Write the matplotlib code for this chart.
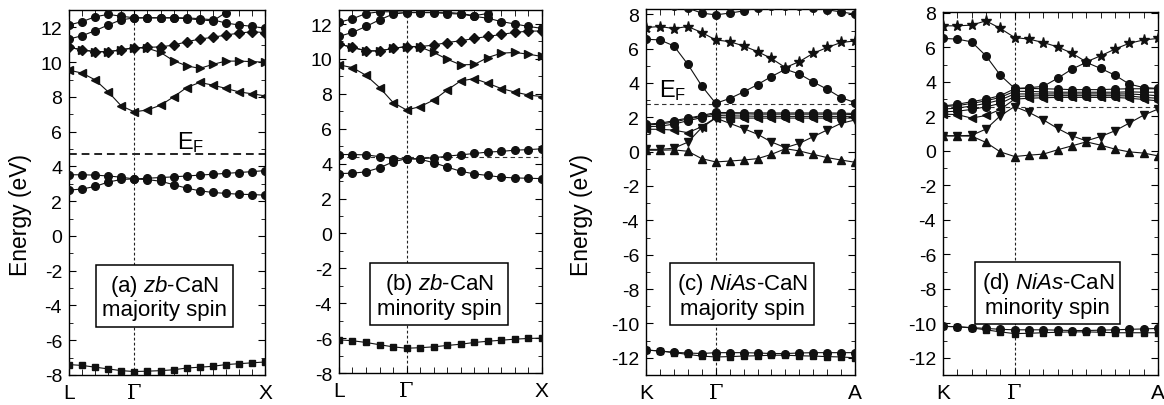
import matplotlib
matplotlib.use("Agg")
import matplotlib.pyplot as plt
from matplotlib.ticker import MultipleLocator, FixedLocator

plt.rcParams['font.family'] = ['Liberation Sans', 'DejaVu Sans']
plt.rcParams['mathtext.fontset'] = 'custom'
plt.rcParams['mathtext.rm'] = 'Liberation Sans'
plt.rcParams['mathtext.it'] = 'Liberation Sans:italic'
plt.rcParams['axes.unicode_minus'] = False

# k-path sample points (Gamma at index 5)
kpts = [0, 1, 2, 3, 4, 5, 6, 7, 8, 9, 10, 11, 12, 13, 14, 15]
zb_labels = ["L", "Γ", "X"]
nias_labels = ["K", "Γ", "A"]
label_pos = [0, 5, 15]

# (a) zb-CaN majority spin
a_bands = [
    ([-7.4, -7.45, -7.55, -7.65, -7.75, -7.8, -7.78, -7.75, -7.7, -7.6, -7.55, -7.5, -7.4, -7.35, -7.3, -7.25], 's'),
    ([2.64, 2.7, 2.85, 3.1, 3.25, 3.28, 3.24, 3.15, 2.95, 2.75, 2.6, 2.5, 2.45, 2.4, 2.38, 2.35], 'o'),
    ([3.52, 3.52, 3.5, 3.45, 3.38, 3.28, 3.32, 3.36, 3.4, 3.45, 3.5, 3.55, 3.6, 3.65, 3.7, 3.76], 'o'),
    ([9.54, 9.37, 8.98, 8.29, 7.48, 7.14, 7.25, 7.52, 8.0, 8.54, 8.83, 8.68, 8.49, 8.29, 8.18, 8.06], '<'),
    ([10.85, 10.71, 10.6, 10.6, 10.71, 10.83, 10.8, 10.56, 10.08, 9.79, 9.64, 9.87, 10.06, 10.06, 10.03, 10.0], '>'),
    ([10.85, 10.71, 10.6, 10.6, 10.71, 10.83, 10.85, 10.88, 10.98, 11.17, 11.33, 11.43, 11.56, 11.67, 11.75, 11.7], 'D'),
    ([11.33, 11.52, 11.81, 12.14, 12.44, 12.54, 12.55, 12.55, 12.55, 12.55, 12.5, 12.44, 12.25, 12.14, 12.06, 11.95], 'o'),
    ([12.14, 12.33, 12.61, 12.75, 12.64, 12.55, 12.55, 12.55, 12.55, 12.5, 12.44, 12.37, 12.85, 13.3, 13.6, 13.8], 'o'),
]
# (b) zb-CaN minority spin
b_bands = [
    ([-6.1, -6.15, -6.25, -6.38, -6.5, -6.58, -6.55, -6.5, -6.42, -6.35, -6.25, -6.18, -6.12, -6.06, -6.02, -6.0], 's'),
    ([3.43, 3.45, 3.53, 3.76, 4.1, 4.28, 4.25, 4.05, 3.8, 3.56, 3.41, 3.32, 3.22, 3.18, 3.16, 3.14], 'o'),
    ([4.52, 4.52, 4.5, 4.4, 4.28, 4.28, 4.28, 4.33, 4.43, 4.5, 4.58, 4.66, 4.7, 4.77, 4.8, 4.85], 'o'),
    ([9.66, 9.5, 9.06, 8.36, 7.5, 7.07, 7.27, 7.64, 8.22, 8.74, 8.87, 8.6, 8.3, 8.1, 7.93, 7.84], '<'),
    ([10.85, 10.66, 10.46, 10.46, 10.6, 10.71, 10.68, 10.37, 9.98, 9.66, 9.68, 10.08, 10.33, 10.37, 10.27, 10.14], '>'),
    ([10.85, 10.66, 10.46, 10.46, 10.6, 10.71, 10.71, 10.79, 10.94, 11.04, 11.17, 11.29, 11.4, 11.52, 11.59, 11.6], 'D'),
    ([11.29, 11.52, 11.86, 12.24, 12.57, 12.65, 12.65, 12.65, 12.6, 12.57, 12.44, 12.33, 12.14, 12.0, 11.86, 11.75], 'o'),
    ([12.1, 12.3, 12.6, 12.7, 12.7, 12.67, 12.67, 12.67, 12.67, 12.6, 12.48, 12.6, 13.1, 13.5, 13.8, 14.0], 'o'),
]
# (c) NiAs-CaN majority spin
c_bands = [
    ([-11.55, -11.6, -11.68, -11.72, -11.75, -11.7, -11.7, -11.7, -11.72, -11.75, -11.75, -11.72, -11.7, -11.7, -11.7, -11.7], 'o'),
    ([-11.55, -11.6, -11.7, -11.8, -11.9, -11.95, -11.93, -11.9, -11.88, -11.85, -11.85, -11.88, -11.9, -11.93, -11.95, -12.0], 's'),
    ([0.08, 0.08, 0.1, 0.02, -0.41, -0.6, -0.55, -0.49, -0.41, -0.16, 0.17, 0.04, -0.16, -0.35, -0.49, -0.62], '^'),
    ([0.13, 0.13, 0.2, 0.55, 1.4, 1.95, 1.65, 1.34, 1.01, 0.56, 0.23, 0.48, 0.87, 1.26, 1.65, 1.84], 'v'),
    ([1.3, 1.3, 1.25, 1.1, 1.45, 1.98, 1.96, 1.95, 1.95, 1.95, 1.95, 1.95, 1.95, 1.95, 1.95, 1.95], '<'),
    ([1.45, 1.48, 1.6, 1.8, 1.98, 2.1, 2.08, 2.07, 2.06, 2.05, 2.05, 2.05, 2.05, 2.05, 2.05, 2.05], 'o'),
    ([1.55, 1.6, 1.72, 1.9, 2.05, 2.2, 2.2, 2.2, 2.18, 2.18, 2.18, 2.18, 2.18, 2.18, 2.18, 2.15], 'o'),
    ([1.6, 1.65, 1.8, 1.95, 2.1, 2.28, 2.27, 2.26, 2.25, 2.25, 2.25, 2.25, 2.25, 2.25, 2.24, 2.22], 'o'),
    ([6.54, 6.5, 6.15, 5.08, 3.82, 2.81, 3.09, 3.47, 3.9, 4.37, 4.79, 4.52, 4.05, 3.63, 3.14, 2.85], 'o'),
    ([7.22, 7.28, 7.16, 7.28, 6.93, 6.5, 6.4, 6.15, 5.82, 5.42, 4.89, 5.24, 5.72, 6.06, 6.35, 6.44], '*'),
    ([8.7, 8.6, 8.5, 8.35, 8.06, 7.96, 8.06, 8.19, 8.35, 8.45, 8.5, 8.45, 8.35, 8.25, 8.13, 8.0], 'o'),
]
# (d) NiAs-CaN minority spin
d_bands = [
    ([-10.18, -10.2, -10.25, -10.3, -10.35, -10.38, -10.38, -10.38, -10.4, -10.42, -10.42, -10.4, -10.38, -10.35, -10.33, -10.3], 'o'),
    ([-10.18, -10.2, -10.27, -10.38, -10.5, -10.6, -10.58, -10.55, -10.52, -10.5, -10.5, -10.52, -10.55, -10.55, -10.55, -10.55], 's'),
    ([0.87, 0.87, 0.85, 0.49, -0.06, -0.33, -0.25, -0.19, 0.06, 0.29, 0.52, 0.33, 0.1, -0.06, -0.13, -0.29], '^'),
    ([0.87, 0.87, 0.9, 1.26, 2.03, 2.57, 2.23, 1.8, 1.3, 0.87, 0.58, 0.83, 1.16, 1.61, 2.07, 2.42], 'v'),
    ([2.13, 2.1, 1.9, 2.05, 2.4, 3.0, 3.05, 3.08, 3.1, 3.1, 3.1, 3.1, 3.1, 3.05, 2.98, 2.9], '<'),
    ([2.26, 2.3, 2.4, 2.55, 2.75, 3.15, 3.18, 3.2, 3.2, 3.2, 3.2, 3.2, 3.2, 3.18, 3.1, 3.05], 'o'),
    ([2.42, 2.48, 2.6, 2.75, 2.95, 3.3, 3.3, 3.3, 3.3, 3.3, 3.3, 3.3, 3.3, 3.3, 3.25, 3.2], 'o'),
    ([2.57, 2.62, 2.75, 2.9, 3.1, 3.45, 3.45, 3.42, 3.4, 3.4, 3.4, 3.4, 3.4, 3.42, 3.4, 3.4], 'o'),
    ([2.6, 2.7, 2.85, 3.0, 3.2, 3.6, 3.62, 3.6, 3.58, 3.55, 3.55, 3.55, 3.58, 3.6, 3.6, 3.6], 'o'),
    ([6.52, 6.48, 6.32, 5.51, 4.39, 3.62, 3.66, 3.74, 4.21, 4.74, 5.13, 4.78, 4.39, 3.87, 3.67, 3.62], 'o'),
    ([7.25, 7.25, 7.29, 7.54, 7.1, 6.57, 6.48, 6.28, 6.03, 5.66, 5.16, 5.51, 5.9, 6.24, 6.43, 6.52], '*'),
]

fermi = [4.7, 4.4, 2.75, 2.55]
titles = ["(a) $\\mathit{zb}$-CaN\nmajority spin",
          "(b) $\\mathit{zb}$-CaN\nminority spin",
          "(c) $\\mathit{NiAs}$-CaN\nmajority spin",
          "(d) $\\mathit{NiAs}$-CaN\nminority spin"]

fig = plt.figure(figsize=(11.64, 4.06), dpi=100)
rects = [[0.0593, 0.0739, 0.1684, 0.899],
         [0.2912, 0.0788, 0.1744, 0.894],
         [0.555, 0.0739, 0.1796, 0.9015],
         [0.8101, 0.0739, 0.1847, 0.894]]
ylims = [(-8, 13), (-8, 12.8), (-13, 8.3), (-13, 8.05)]
box_pos = [(0.487, 0.215), (0.493, 0.215), (0.46, 0.219), (0.488, 0.223)]
all_bands = [a_bands, b_bands, c_bands, d_bands]
xlabels = [zb_labels, zb_labels, nias_labels, nias_labels]
msizes = {'o': 5.5, 's': 5, 'D': 5, '<': 6, '>': 6, '^': 6, 'v': 6, '*': 8}

for i, ax in enumerate([fig.add_axes(r) for r in rects]):
    for vals, mk in all_bands[i]:
        ax.plot(kpts, vals, color='#111111', lw=0.8, marker=mk, ms=msizes[mk],
                mfc='#111111', mec='#111111', zorder=3, clip_on=True)
    ax.axvline(5, color='#222222', lw=0.8, ls=(0, (2.5, 2)), zorder=1)
    if i == 0:
        ax.axhline(fermi[i], color='#222222', lw=1.4, ls=(0, (4, 2.5)), zorder=2)
        ax.text(9.3, 5.45, '$\\mathrm{E_F}$', fontsize=17, ha='center', va='center')
    else:
        ax.axhline(fermi[i], color='#333333', lw=0.8, ls=(0, (4, 3)), zorder=2)
    if i == 2:
        ax.text(1.95, 3.63, '$\\mathrm{E_F}$', fontsize=17, ha='center', va='center')

    ax.text(box_pos[i][0], box_pos[i][1], titles[i], transform=ax.transAxes,
            fontsize=16, ha='center', va='center', multialignment='center',
            linespacing=1.1, zorder=6,
            bbox=dict(boxstyle='square,pad=0.28', fc='white', ec='black', lw=1.1))

    ax.set_xlim(0, 15)
    ax.set_ylim(*ylims[i])
    ax.xaxis.set_major_locator(FixedLocator(label_pos))
    ax.xaxis.set_minor_locator(FixedLocator(kpts))
    tl = ax.set_xticklabels(xlabels[i], fontsize=15)
    tl[1].set_fontfamily('DejaVu Serif')
    ax.yaxis.set_major_locator(MultipleLocator(2))
    ax.yaxis.set_minor_locator(MultipleLocator(1))
    ax.tick_params(which='both', direction='in', top=True, right=True, labelsize=14)
    ax.tick_params(axis='x', which='both', length=4, pad=6)
    ax.tick_params(axis='x', labelsize=15)
    ax.tick_params(axis='y', which='major', length=5, pad=5)
    ax.tick_params(axis='y', which='minor', length=3)
    for s in ax.spines.values():
        s.set_linewidth(1.0)
    if i in (0, 2):
        ax.set_ylabel('Energy (eV)', fontsize=16.5)
        ax.yaxis.set_label_coords(-0.19 if i == 0 else -0.255, 0.44)

fig.savefig('out.png', dpi=100)
